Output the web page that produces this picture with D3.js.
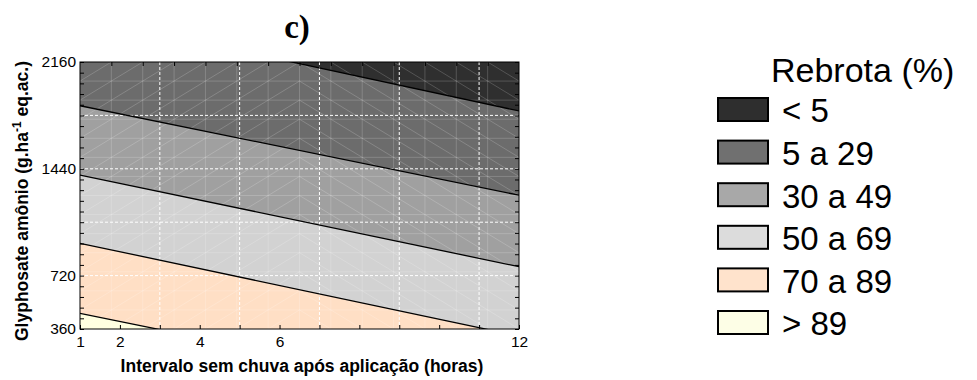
<!DOCTYPE html>
<html>
<head>
<meta charset="utf-8">
<script src="https://cdn.jsdelivr.net/npm/d3@7"></script>
<style>
  body { margin: 0; background: #fff; }
</style>
</head>
<body>
<svg id="chart" width="977" height="380" font-family="Arial, 'Liberation Sans', sans-serif"></svg>
<script>
// axis labels
var xTicks = [1, 2, 4, 6, 12];
var yTicks = [360, 720, 1440, 2160];
var xGrid = [3, 5, 7, 9, 11];
var yGrid = [720, 1080, 1440, 1800];

// legend classes, darkest (low regrowth) first
var bandLabels = ["< 5", "5 a 29", "30 a 49", "50 a 69", "70 a 89", "> 89"];
var bandColors = ["#2f2f2f", "#6c6c6c", "#a0a0a0", "#d2d2d2", "#ffdfc5", "#ffffe0"];
var legendColors = ["#2e2e2e", "#707070", "#a8a8a8", "#dcdcdc", "#ffe3cc", "#fdfee6"];

// contour boundaries between classes: dose (g/ha) at 1 h and at 12 h
var boundAt1 = [2468, 1865, 1398, 938, 466];
var boundAt12 = [1830, 1262, 780, 312, -139];

var svg = d3.select('#chart');
var m = {left: 80, right: 519, top: 62, bottom: 329};
var x = d3.scaleLinear().domain([1, 12]).range([m.left, m.right]);
var y = d3.scaleLinear().domain([360, 2160]).range([m.bottom, m.top]);

svg.append('clipPath').attr('id', 'plotclip').append('rect')
  .attr('x', m.left).attr('y', m.top)
  .attr('width', m.right - m.left).attr('height', m.bottom - m.top);

var plot = svg.append('g').attr('clip-path', 'url(#plotclip)');
var floor = d3.min(boundAt12.concat(boundAt1, y.domain()));

// paint top class, then lay each lower class over it
plot.append('rect')
  .attr('x', m.left).attr('y', m.top)
  .attr('width', m.right - m.left).attr('height', m.bottom - m.top)
  .attr('fill', bandColors[0]);

plot.selectAll('path.band').data(boundAt1).enter().append('path')
  .attr('class', 'band')
  .attr('fill', function(d, i) { return bandColors[i + 1]; })
  .attr('d', function(d, i) {
    return d3.line()([[x(1), y(d)], [x(12), y(boundAt12[i])], [x(12), y(floor)], [x(1), y(floor)]]) + 'Z';
  });

// faint triangulation mesh of the surface
var nMesh = 14, dx = 11 / nMesh, dy = 1800 / nMesh;
var mesh = plot.append('g').attr('stroke', '#fff').attr('stroke-opacity', 0.18).attr('stroke-width', 1);
d3.range(1, nMesh).forEach(function(k) {
  mesh.append('line').attr('x1', x(1 + k * dx)).attr('x2', x(1 + k * dx)).attr('y1', m.top).attr('y2', m.bottom);
  mesh.append('line').attr('y1', y(360 + k * dy)).attr('y2', y(360 + k * dy)).attr('x1', m.left).attr('x2', m.right);
});
d3.range(nMesh).forEach(function(i) {
  d3.range(nMesh).forEach(function(j) {
    var x0 = 1 + i * dx, y0 = 360 + j * dy;
    if (i < nMesh / 2) {
      mesh.append('line').attr('x1', x(x0)).attr('y1', y(y0)).attr('x2', x(x0 + dx)).attr('y2', y(y0 + dy));
    } else {
      mesh.append('line').attr('x1', x(x0)).attr('y1', y(y0 + dy)).attr('x2', x(x0 + dx)).attr('y2', y(y0));
    }
  });
});

// dashed grid
plot.selectAll('line.gx').data(xGrid).enter().append('line')
  .attr('x1', x).attr('x2', x).attr('y1', m.top).attr('y2', m.bottom)
  .attr('stroke', '#fff').attr('stroke-dasharray', '3,2');
plot.selectAll('line.gy').data(yGrid).enter().append('line')
  .attr('y1', y).attr('y2', y).attr('x1', m.left).attr('x2', m.right)
  .attr('stroke', '#fff').attr('stroke-dasharray', '3,2');

// contour lines
plot.selectAll('line.cl').data(boundAt1).enter().append('line')
  .attr('x1', x(1)).attr('y1', function(d) { return y(d); })
  .attr('x2', x(12)).attr('y2', function(d, i) { return y(boundAt12[i]); })
  .attr('stroke', '#000').attr('stroke-width', 1.3);

// axes
var xa = svg.append('g').attr('transform', 'translate(0,' + m.bottom + ')')
  .call(d3.axisBottom(x).tickValues(d3.range(1, 13)).tickSize(-4).tickPadding(7)
    .tickFormat(function(d) { return xTicks.indexOf(d) >= 0 ? d : ''; }));
var xt = svg.append('g').attr('transform', 'translate(0,' + m.top + ')')
  .call(d3.axisTop(x).tickValues(d3.range(1, nMesh).map(function(k) { return 1 + k * dx; }))
    .tickSize(-4).tickFormat(''));
var ya = svg.append('g').attr('transform', 'translate(' + m.left + ',0)')
  .call(d3.axisLeft(y).tickValues(d3.range(360, 2161, 72)).tickSize(-4).tickPadding(4)
    .tickFormat(function(d) { return yTicks.indexOf(d) >= 0 ? d : ''; }));
var yr = svg.append('g').attr('transform', 'translate(' + m.right + ',0)')
  .call(d3.axisRight(y).tickValues(d3.range(360, 2161, 72)).tickSize(-4).tickFormat(''));
[xa, xt, ya, yr].forEach(function(g) {
  g.select('.domain').remove();
  g.attr('font-family', null);
  g.selectAll('text').attr('font-size', 15.5).attr('fill', '#000');
});

svg.append('rect')
  .attr('x', m.left).attr('y', m.top)
  .attr('width', m.right - m.left).attr('height', m.bottom - m.top)
  .attr('fill', 'none').attr('stroke', '#000').attr('stroke-width', 1);

// titles
svg.append('text').attr('x', 297).attr('y', 38).attr('text-anchor', 'middle')
  .attr('font-family', '"Liberation Serif", "Times New Roman", serif').attr('font-weight', 'bold')
  .attr('font-size', 33).text('c)');

svg.append('text').attr('x', 302).attr('y', 372).attr('text-anchor', 'middle')
  .attr('font-weight', 'bold').attr('font-size', 17.5)
  .text('Intervalo sem chuva após aplicação (horas)');

var yl = svg.append('text').attr('transform', 'translate(28,201) rotate(-90)')
  .attr('text-anchor', 'middle').attr('font-weight', 'bold').attr('font-size', 17.5);
yl.append('tspan').text('Glyphosate amônio (g.ha');
yl.append('tspan').attr('font-size', 12).attr('dy', -7).text('-1');
yl.append('tspan').attr('dy', 7).text(' eq.ac.)');

// legend
var lg = svg.append('g');
lg.append('text').attr('x', 771).attr('y', 82).attr('font-size', 34).text('Rebrota (%)');
var items = lg.selectAll('g.item').data(bandLabels).enter().append('g').attr('class', 'item')
  .attr('transform', function(d, i) { return 'translate(718,' + (98 + i * 42.6) + ')'; });
items.append('rect').attr('width', 50).attr('height', 23)
  .attr('fill', function(d, i) { return legendColors[i]; })
  .attr('stroke', '#000').attr('stroke-width', 2);
items.append('text').attr('x', 64).attr('y', 12.5).attr('dy', '0.36em')
  .attr('font-size', 33).text(function(d) { return d; });
</script>
</body>
</html>
